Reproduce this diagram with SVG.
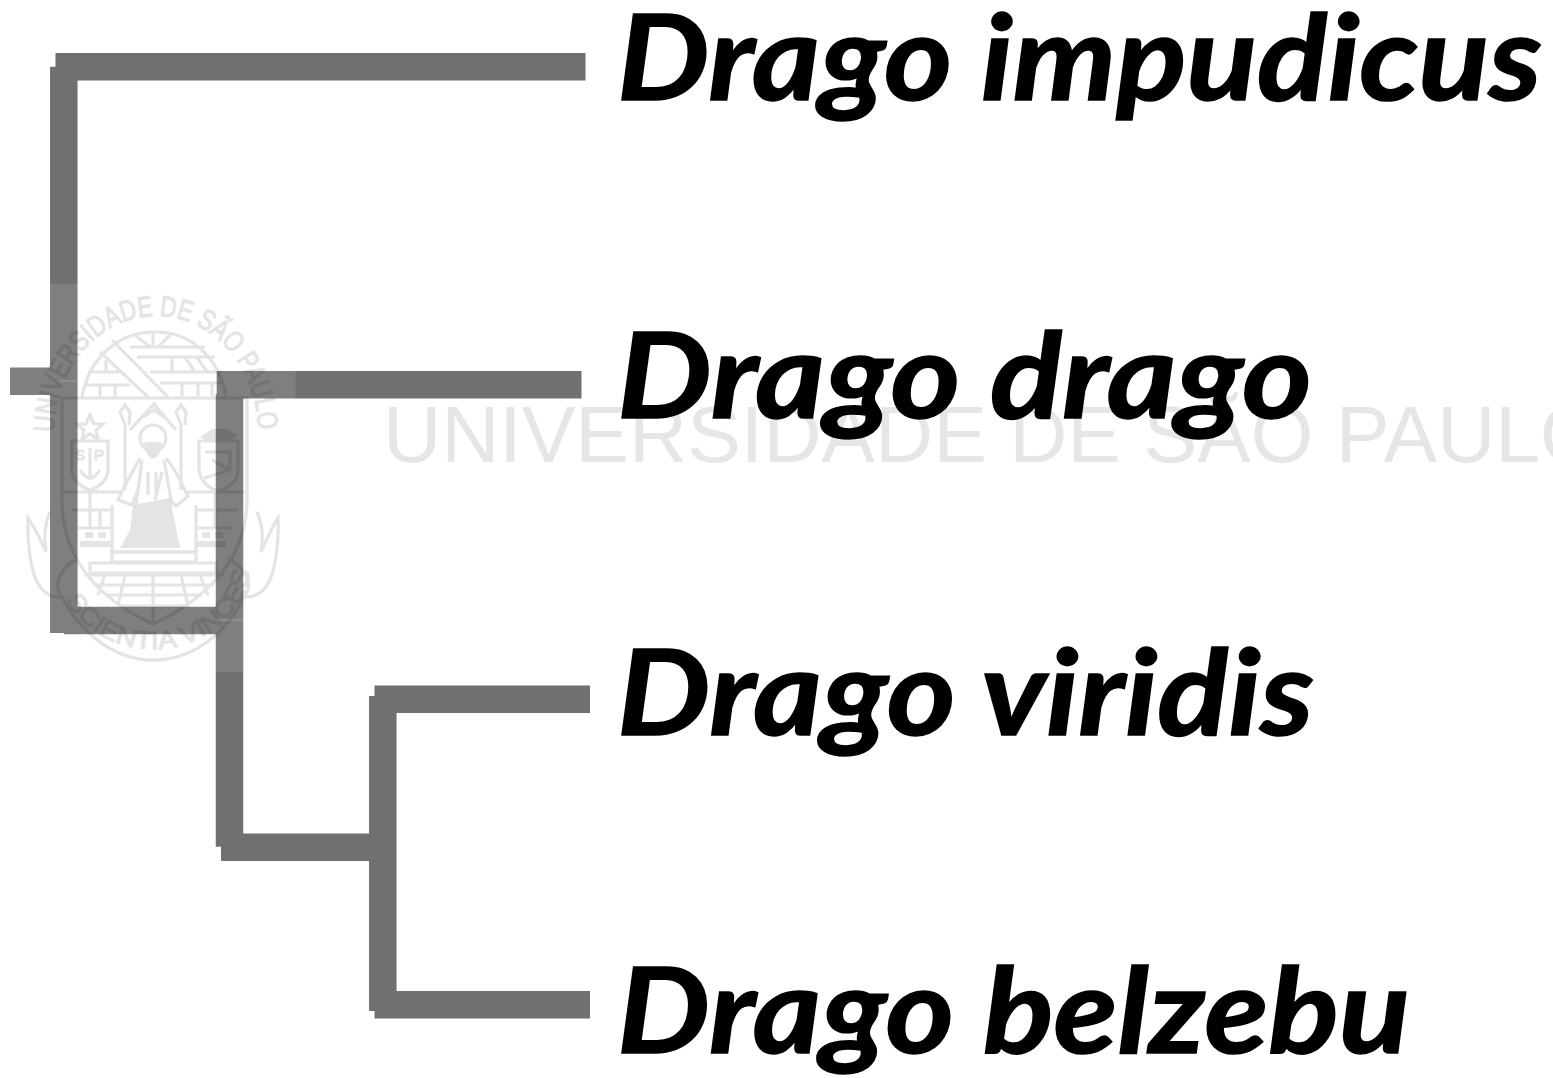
<svg xmlns="http://www.w3.org/2000/svg" width="1553" height="1078" viewBox="0 0 1553 1078">
<style>
.b{stroke:#707070;stroke-width:27.5;fill:none}
.s{stroke:#8f8f8f;stroke-width:1;fill:none}
.sp{font-family:"Lato","Liberation Sans",sans-serif;font-weight:700;font-style:italic;font-size:118px;fill:#000;stroke:#000;stroke-width:1.5}
.wm{font-family:"Liberation Sans",Arial,sans-serif;font-size:80.500px;fill:#e6e6e6}
.c{fill:none;stroke:#000;stroke-width:3.2}
.f{fill:#000;stroke:none}
.ct{font-family:"Liberation Sans",Arial,sans-serif;fill:#000;stroke:#000;stroke-width:1.2}
</style>
<defs>
<path id="arcTop" d="M54 432A102 116 0 1 1 258 432"/>
<path id="arcBot" d="M56 572A98 90 0 0 0 250 572"/>
</defs>
<rect width="1553" height="1078" fill="#fff"/>
<g id="connectors">
<path class="b" d="M55.500 66.800H585.500"/>
<path class="b" d="M63.800 66.700V381"/>
<path class="b" d="M10 381.300H64"/>
<path class="b" d="M63.800 381V633"/>
<path class="b" d="M64 620.500H230"/>
<path class="b" d="M216.700 384.800H581.500"/>
<path class="b" d="M229.500 394V620"/>
<path class="b" d="M229.500 620V846.800"/>
<path class="b" d="M221 847.200H383"/>
<path class="b" d="M382.800 696V1011"/>
<path class="b" d="M374.500 699.300H590"/>
<path class="b" d="M374.500 1004.800H590"/>
<path class="s" d="M60 381H77M216 620H243"/>
</g>
<g id="watermark">
<rect x="0" y="284" width="295.500" height="388" fill="#fff" fill-opacity=".11"/>
<g id="crest" opacity=".1">
<text class="ct" font-size="29"><textPath href="#arcTop" textLength="340" lengthAdjust="spacingAndGlyphs">UNIVERSIDADE DE SÃO PAULO</textPath></text>
<text class="ct" font-size="25"><textPath href="#arcBot" textLength="240" startOffset="30" lengthAdjust="spacingAndGlyphs">SCIENTIA VINCES</textPath></text>
<path class="c" d="M62 398H247V500C247 560 205 600 153 624C100 600 62 560 62 500Z"/>
<path class="c" d="M82 397C90 355 120 332 155 332C190 332 218 355 226 397"/>
<path class="c" d="M100 352L148 397M112 340L168 397M130 347H205M137 357H215M150 372H222M160 383H224M153 332V347M135 335L150 347M170 335L158 347M172 357V372M185 357L195 372M197 357L207 372M182 383V396M198 383V396M212 383V396M88 372H120M84 385H130M106 372V360M100 385V396M115 385V396"/>
<path class="c" d="M125 490V425L120 412L125 405L130 412L129 425M181 490V425L176 412L181 405L186 412L185 425M130 430L154 404L176 430M138 420L154 410L168 420"/>
<circle class="c" cx="153" cy="438" r="13"/>
<path class="f" d="M143 445Q153 472 163 445L160 442H146Z"/>
<path class="c" d="M140 458C128 480 122 490 118 500L132 505L138 490M166 458C176 470 185 490 188 496L176 506L168 498M142 460L136 505M164 460L172 505M148 472V495M156 472V495M162 472L155 500"/>
<path class="f" d="M133 505L170 498L180 548H120L130 530Z"/>
<path class="c" d="M112 505V552H196V505M64 492H122M184 492H245M72 510H112M196 510H238M78 528H112M196 528H232M90 492V528M215 492V528M100 510V528"/>
<path class="f" d="M85 532h8v6h-8zM98 532h8v6h-8zM202 532h8v6h-8zM215 532h8v6h-8zM80 541h32v6h-32zM196 541h30v6h-30z"/>
<path class="c" d="M72 441H108V470C108 480 98 488 90 490C82 488 72 480 72 470Z"/>
<path class="c" d="M90 415L94 424H103L96 430L98 439L90 434L82 439L84 430L77 424H86Z"/>
<path class="c" d="M90 448V480M80 470Q90 486 100 470"/>
<text class="ct" font-size="15" x="75" y="460">S</text><text class="ct" font-size="15" x="94" y="460">P</text>
<path class="c" d="M199 441H238V470C238 482 228 488 218 491C208 488 199 480 199 468Z"/>
<path class="f" d="M200 437L212 429H228L238 436L226 441H208Z"/>
<path class="c" d="M205 452H230V470L212 460M204 478L230 470"/>
<path class="c" d="M112 552H196V562H112ZM90 563H216V573H90ZM84 575H224M94 585H214M106 595H202M120 606H188M153 575V622M125 575L118 606M181 575L188 606M105 575L98 595M200 575L208 595"/>
<path class="c" d="M50 512C44 525 44 540 46 552C40 538 35 528 28 518C27 540 30 565 36 580C42 592 50 598 62 597C52 585 60 568 78 558"/>
<path class="c" d="M257 512C263 525 263 540 261 552C267 538 272 528 278 518C279 540 276 565 270 580C264 592 256 598 244 597C254 585 246 568 228 558"/>
<path class="c" d="M62 597C85 640 120 660 153 660C188 660 222 640 244 597"/>
</g>
<text class="wm" x="383" y="462">UNIVERSIDADE DE SÃO PAULO</text>
</g>
<g id="n1"><text class="sp" x="617" y="100" textLength="925" lengthAdjust="spacingAndGlyphs">Drago impudicus</text></g>
<g id="n2"><text class="sp" x="617" y="418" textLength="695" lengthAdjust="spacingAndGlyphs">Drago drago</text></g>
<g id="n3"><text class="sp" x="617" y="735" textLength="697" lengthAdjust="spacingAndGlyphs">Drago viridis</text></g>
<g id="n4"><text class="sp" x="617" y="1053" textLength="793" lengthAdjust="spacingAndGlyphs">Drago belzebu</text></g>
</svg>
